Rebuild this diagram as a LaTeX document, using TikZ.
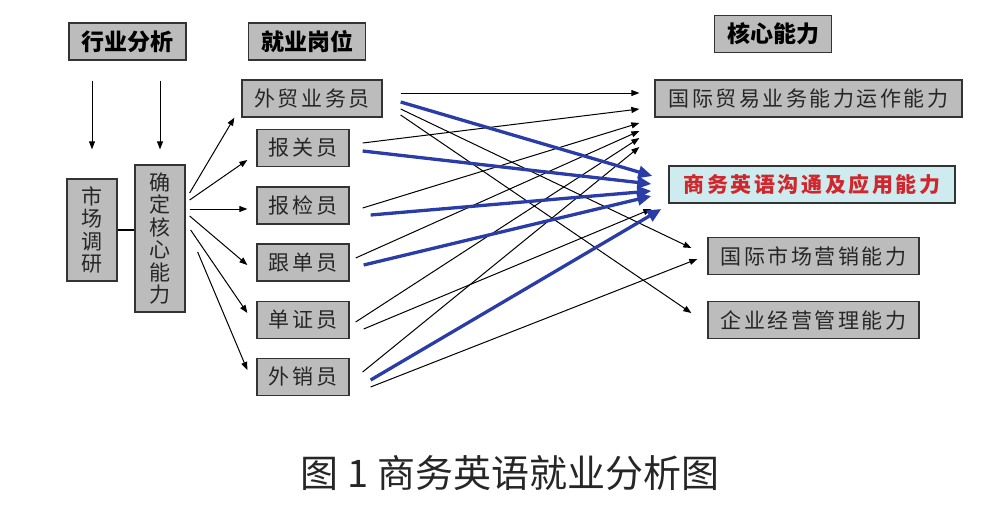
\documentclass[tikz,border=0pt]{standalone}
\usepackage{fontspec}
\setmainfont{Noto Sans CJK SC}
\newfontfamily\cjkspaced[LetterSpace=12]{Noto Sans CJK SC}
\usetikzlibrary{arrows.meta,calc}

\definecolor{boxgray}{RGB}{188,188,188}
\definecolor{corefill}{RGB}{206,236,240}
\definecolor{corered}{RGB}{208,38,44}
\definecolor{coreblue}{RGB}{42,60,168}

\tikzset{
    box/.style={draw=black!80, line width=1.3pt, fill=boxgray, inner sep=0pt,
        minimum height=37pt, text=black!85, font=\cjkspaced\fontsize{21}{24}\selectfont},
    headbox/.style={box, minimum width=117pt, text=black,
        font=\bfseries\fontsize{23}{26}\selectfont},
    vbox/.style={box, align=center, minimum width=50pt,
        font=\fontsize{21}{22.5}\selectfont},
    link/.style={-{Triangle[length=8pt,width=6pt]}, line width=1pt},
    core/.style={-{Triangle[length=14pt,width=12pt]}, line width=3.3pt, draw=coreblue},
}

\begin{document}
\begin{tikzpicture}[x=1pt, y=-1pt]
    \useasboundingbox (0,0) rectangle (994,522);

    \node [headbox] (hy) at (127.5,41.5) {行业分析};
    \node [headbox] (jy) at (307,41.5) {就业岗位};
    \node [headbox] (hx) at (773,34) {核心能力};

    \node [vbox, minimum height=102pt] (sc) at (92,230) {市\\场\\调\\研};
    \node [vbox, minimum height=147pt] (qd) at (160,238.5) {确\\定\\核\\心\\能\\力};

    \node [box, minimum width=140pt] (wm) at (312,98.5) {外贸业务员};
    \node [box, minimum width=92pt] (bg) at (303,148) {报关员};
    \node [box, minimum width=92pt] (bj) at (303,205.5) {报检员};
    \node [box, minimum width=92pt] (gd) at (303,262.5) {跟单员};
    \node [box, minimum width=92pt] (dz) at (303,320) {单证员};
    \node [box, minimum width=92pt] (wx) at (303,377) {外销员};

    \node [box, minimum width=307pt] (gm) at (808.5,98.5) {国际贸易业务能力运作能力};
    \node [box, minimum width=286pt, fill=corefill, text=corered,
        font=\cjkspaced\bfseries\fontsize{21}{24}\selectfont]
        (sy) at (812,184.5) {商务英语沟通及应用能力};
    \node [box, minimum width=211pt] (yx) at (813.5,256) {国际市场营销能力};
    \node [box, minimum width=211pt] (qy) at (813.5,320) {企业经营管理能力};

    \node [font=\fontsize{38}{42}\selectfont, text=black!85]
        (cap) at (510,473) {图 1 商务英语就业分析图};

    \draw [link]
        ($(hy.south)+(-35.5,20)$)
        --
        ($(sc.north)+(0,-29)$)
        ;

    \draw [link]
        ($(hy.south)+(32.5,20)$)
        --
        ($(qd.north)+(0,-15)$)
        ;

    \draw [line width=1.3pt]
        (sc.east) -- (sc.east -| qd.west)
        ;

    \draw [link] ($(qd.east)+(4,-45.5)$) -- ($(wm.south west)+(-7,0)$);
    \draw [link] ($(qd.east)+(4,-38.5)$) -- ($(bg.west)+(-9,12)$);
    \draw [link] ($(qd.east)+(4,-29.5)$) -- ($(bj.west)+(-9,3.5)$);
    \draw [link] ($(qd.east)+(4,-22.5)$) -- ($(gd.west)+(-9,2.5)$);
    \draw [link] ($(qd.east)+(5,-8.5)$) -- ($(dz.west)+(-9,-7)$);
    \draw [link] ($(qd.east)+(12,13.5)$) -- ($(wx.west)+(-9,-7)$);

    \draw [link] ($(wm.east)+(18,-5.5)$) -- ($(gm.west)+(-15,-5.5)$);
    \draw [link] ($(bg.east)+(13,-5)$) -- ($(gm.west)+(-15,10.5)$);
    \draw [link] ($(bj.east)+(13,2.5)$) -- ($(gm.west)+(-15,24.5)$);
    \draw [link] ($(gd.east)+(6,-4.5)$) -- ($(gm.west)+(-15,32.5)$);
    \draw [link] ($(dz.east)+(6,2)$) -- ($(gm.west)+(-15,39.5)$);
    \draw [link] ($(wx.east)+(13,-5)$) -- ($(gm.west)+(-15,48.5)$);

    \draw [link] ($(wm.east)+(18,10.5)$) -- ($(yx.west)+(-16,-8)$);
    \draw [link] ($(wm.east)+(18,16.5)$) -- ($(qy.west)+(-16,-7)$);
    \draw [link] ($(dz.east)+(14,9)$) -- ($(sy.west)+(-17,24.5)$);
    \draw [link] ($(wx.east)+(21,10)$) -- ($(yx.west)+(-10,3)$);

    \draw [core] ($(wm.east)+(18,3.5)$) -- ($(sy.west)+(-16,-8.5)$);
    \draw [core] ($(bg.east)+(13,3)$) -- ($(sy.west)+(-17,-0.5)$);
    \draw [core] ($(bj.east)+(21,9.5)$) -- ($(sy.west)+(-17,6.5)$);
    \draw [core] ($(gd.east)+(14,2.5)$) -- ($(sy.west)+(-17,11.5)$);
    \draw [core] ($(wx.east)+(21,3)$) -- ($(sy.west)+(-7,24.5)$);

\end{tikzpicture}
\end{document}
